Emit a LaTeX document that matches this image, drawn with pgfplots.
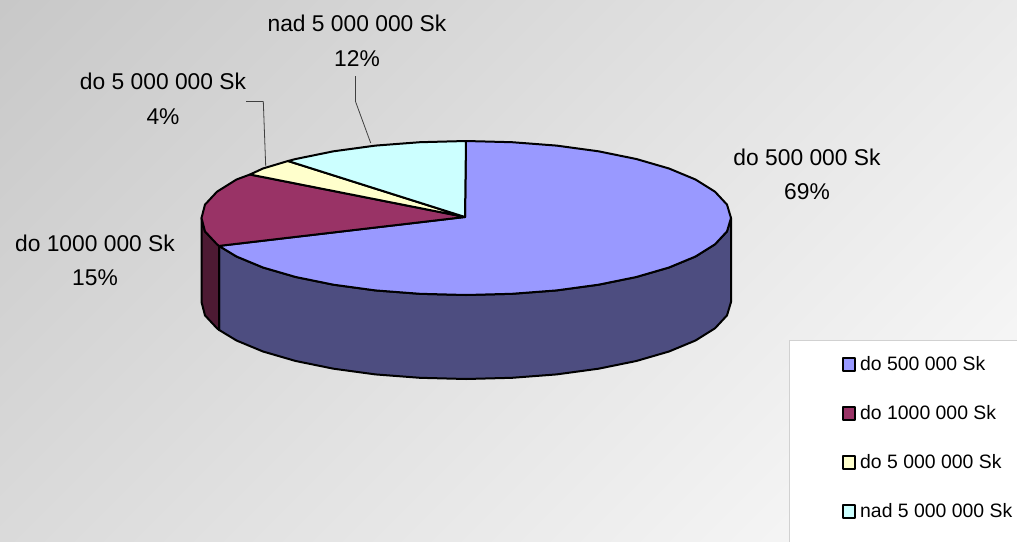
\documentclass[border=0pt]{standalone}
\usepackage{pgfplots}
\pgfplotsset{compat=1.18}
\usepackage{fontspec}
\setmainfont{Liberation Sans}
\definecolor{cBlue}{HTML}{9999FF}
\definecolor{cBlueS}{HTML}{4D4D80}
\definecolor{cRed}{HTML}{993366}
\definecolor{cRedS}{HTML}{4D1A33}
\definecolor{cYel}{HTML}{FFFFCC}
\definecolor{cCya}{HTML}{CCFFFF}
\definecolor{bgDark}{HTML}{C8C8C8}
\definecolor{bgLight}{HTML}{FCFCFC}
\pgfdeclareverticalshading{bgdiag}{100bp}{color(0bp)=(bgLight);color(14.64bp)=(bgLight);color(85.36bp)=(bgDark);color(100bp)=(bgDark)}
\begin{document}
\begin{tikzpicture}
\begin{axis}[
  hide axis, scale only axis, width=1017pt, height=541pt,
  xmin=0, xmax=1017, ymin=0, ymax=541, y dir=reverse,
  legend style={at={(axis cs:842,354.5)},anchor=north west,draw=none,fill=none,inner sep=0pt,
    cells={anchor=west},row sep=29.2pt,
    font=\fontsize{19.4}{21}\selectfont,
    /tikz/every odd column/.append style={column sep=2pt}},
  legend cell align=left,
  legend image code/.code={\draw[#1,line width=2pt] (1pt,-7pt) rectangle (13pt,6pt);},
  every axis plot/.append style={line join=round},
]
% background
\addplot[forget plot,draw=none,shading=bgdiag,shading angle=45] coordinates {(0,0)(1017,0)(1017,541)(0,541)} -- cycle;
% legend panel
\addplot[forget plot,draw=black!18,line width=1pt,fill=white] coordinates {(789.5,340.5)(1030,340.5)(1030,560)(789.5,560)} -- cycle;
% side faces
\addplot[forget plot,draw=black,line width=2pt,fill=cBlueS] coordinates {(731,218)(727,231.4)(715,244.3)(695.5,256.5)(669,267.5)(636.3,277)(598.5,284.7)(556.6,290.4)(512,293.8)(466,295)(420,293.8)(375.4,290.4)(333.5,284.7)(295.7,277)(263,267.5)(236.5,256.5)(219,245.9)
 (219,329.9)(236.5,340.5)(263,351.5)(295.7,361)(333.5,368.7)(375.4,374.4)(420,377.8)(466,379)(512,377.8)(556.6,374.4)(598.5,368.7)(636.3,361)(669,351.5)(695.5,340.5)(715,328.3)(727,315.4)(731,302)} -- cycle;
\addplot[forget plot,draw=black,line width=2pt,fill=cRedS] coordinates {(219,245.9)(205,231.4)(201.5,218)(201.5,302)(205,315.4)(217,328.3)(219,329.9)} -- cycle;
% top slices
\addplot[draw=black,line width=2pt,fill=cBlue] coordinates {(465,217)(466,141)(512,142.2)(556.6,145.6)(598.5,151.3)(636.3,159)(669,168.5)(695.5,179.5)(715,191.7)(727,204.6)(731,218)(727,231.4)(715,244.3)(695.5,256.5)(669,267.5)(636.3,277)(598.5,284.7)(556.6,290.4)(512,293.8)(466,295)(420,293.8)(375.4,290.4)(333.5,284.7)(295.7,277)(263,267.5)(236.5,256.5)(219,245.9)} -- cycle;
\addlegendentry{do 500 000 Sk}
\addplot[draw=black,line width=2pt,fill=cRed] coordinates {(465,217)(219,245.9)(217,244.3)(205,231.4)(201.5,218)(205,204.6)(217,191.7)(236.5,179.5)(250,174.5)} -- cycle;
\addlegendentry{do 1000 000 Sk}
\addplot[draw=black,line width=2pt,fill=cYel] coordinates {(465,217)(250,174.5)(263,168.5)(288,161)} -- cycle;
\addlegendentry{do 5 000 000 Sk}
\addplot[draw=black,line width=2pt,fill=cCya] coordinates {(465,217)(288,161)(295.7,159)(333.5,151.3)(375.4,145.6)(420,142.2)(466,141)} -- cycle;
\addlegendentry{nad 5 000 000 Sk}
% leader lines
\addplot[forget plot,draw=black!75,line width=0.8pt] coordinates {(246,101.5)(263.3,101.5)(265.7,166)};
\addplot[forget plot,draw=black!75,line width=0.8pt] coordinates {(355.5,76)(355.5,101.5)(370.7,143)};
% data labels
\tikzset{lab/.style={align=center,font=\fontsize{22.8}{34.5}\selectfont,inner sep=0pt}}
\node[lab] at (axis cs:357,41) {nad 5 000 000 Sk\\12\%};
\node[lab] at (axis cs:163,99) {do 5 000 000 Sk\\4\%};
\node[lab] at (axis cs:95,260.5) {do 1000 000 Sk\\15\%};
\node[lab] at (axis cs:807,174.5) {do 500 000 Sk\\69\%};
\end{axis}
\end{tikzpicture}
\end{document}
